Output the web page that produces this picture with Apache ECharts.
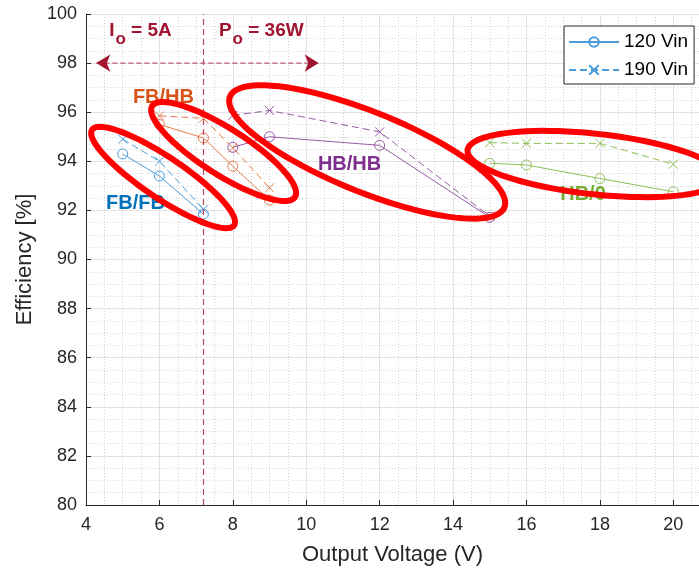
<!DOCTYPE html>
<html>
<head>
<meta charset="UTF-8" />
<title>Efficiency vs Output Voltage</title>
<script src="https://cdn.jsdelivr.net/npm/echarts@6/dist/echarts.min.js"></script>
<style>
html,body{margin:0;padding:0;background:#fff;}
#main{width:699px;height:569px;}
</style>
</head>
<body>
<div id="main"></div>
<script type="text/javascript">
// --- data ---
var xFBFB = [5, 6, 7.2];
var fbfb120 = [94.3, 93.4, 91.85];
var fbfb190 = [94.9, 94.0, 92.05];

var xFBHB = [6, 7.2, 8, 9];
var fbhb120 = [95.5, 94.95, 93.8, 92.42];
var fbhb190 = [95.85, 95.75, 94.55, 92.92];

var xHBHB = [8, 9, 12, 15];
var hbhb120 = [94.57, 95.0, 94.65, 91.72];
var hbhb190 = [95.87, 96.07, 95.2, 91.76];

var xHB0 = [15, 16, 18, 20];
var hb0120 = [93.92, 93.85, 93.3, 92.76];
var hb0190 = [94.76, 94.73, 94.73, 93.88];

var groupNames = ['FB/FB', 'FB/HB', 'HB/HB', 'HB/0'];
var xTicks = [4, 6, 8, 10, 12, 14, 16, 18, 20];

// where the group labels and ellipses sit (data coords)
var groupLabelPos = [[5.35, 92.3], [6.11, 96.58], [11.18, 93.85], [17.54, 92.63]];
var ellipseCenters = [[6.10, 93.34], [7.75, 94.40], [11.66, 94.38], [17.86, 93.89]];
var ioLine = 7.2;
var arrowEnds = [[4.28, 98], [10.34, 98]];
var noteTexts = ['{m|I}{s|o}{m| = 5A}', '{m|P}{s|o}{m| = 36W}'];
var notePos = [[4.63, 99.3], [7.62, 99.3]];

// styles
var lineColors = ['#4a9dd8', '#e37c4f', '#9659a4', '#8dbf56'];
var labelColors = ['#0072BD', '#D95319', '#7E2F8E', '#77AC30'];
var ellipseShape = [
  {a: 85.6, b: 20.5, angle: 33.9},
  {a: 84.7, b: 23.1, angle: 32.5},
  {a: 148, b: 40, angle: 22},
  {a: 128, b: 30.3, angle: 6.2}
];
var darkRed = '#A2142F';
var font = '"Liberation Sans", Arial, Helvetica, sans-serif';
var crossPath = 'path://M0,0L10,10M10,0L0,10';

function pair(xs, ys) {
  return xs.map(function (x, i) { return [x, ys[i]]; });
}

var groupX = [xFBFB, xFBHB, xHBHB, xHB0];
var group120 = [fbfb120, fbhb120, hbhb120, hb0120];
var group190 = [fbfb190, fbhb190, hbhb190, hb0190];

var series = [];

// double arrow + the Io/Po boundary line
series.push({
  type: 'line', name: 'arrow', z: 1, silent: true,
  data: [
    {value: arrowEnds[0], symbolRotate: 90},
    {value: arrowEnds[1], symbolRotate: -90}
  ],
  symbol: 'arrow', symbolSize: [13, 14],
  itemStyle: {color: darkRed},
  lineStyle: {color: '#c05a70', width: 1.2, type: [5, 3]},
  markLine: {
    silent: true, symbol: 'none', animation: false,
    label: {show: false},
    lineStyle: {color: '#b8475f', width: 1.2, type: [6, 4]},
    data: [{xAxis: ioLine}]
  }
});

for (var g = 0; g < 4; g++) {
  series.push({
    type: 'line', name: '120 Vin', z: 3,
    data: pair(groupX[g], group120[g]),
    symbol: 'circle', symbolSize: 10,
    lineStyle: {color: lineColors[g], width: 1},
    itemStyle: {color: 'rgba(255,255,255,0)', borderColor: lineColors[g], borderWidth: 1}
  });
}
for (var h = 0; h < 4; h++) {
  series.push({
    type: 'line', name: '190 Vin', z: 3,
    data: pair(groupX[h], group190[h]),
    symbol: crossPath, symbolSize: 9,
    lineStyle: {color: lineColors[h], width: 1, type: [7, 4]},
    itemStyle: {color: 'rgba(255,255,255,0)', borderColor: lineColors[h], borderWidth: 1}
  });
}

// group labels
series.push({
  type: 'custom', name: 'labels', z: 4, silent: true,
  data: groupLabelPos,
  renderItem: function (params, api) {
    var p = api.coord([api.value(0), api.value(1)]);
    return {
      type: 'text', x: p[0], y: p[1],
      style: {
        text: groupNames[params.dataIndex], fill: labelColors[params.dataIndex],
        fontSize: 20, fontWeight: 'bold', fontFamily: font,
        align: 'center', verticalAlign: 'middle'
      }
    };
  }
});

// Io / Po notes
series.push({
  type: 'custom', name: 'notes', z: 4, silent: true,
  data: notePos,
  renderItem: function (params, api) {
    var p = api.coord([api.value(0), api.value(1)]);
    return {
      type: 'text', x: p[0], y: p[1],
      style: {
        text: noteTexts[params.dataIndex],
        align: 'left', verticalAlign: 'middle',
        rich: {
          m: {fill: darkRed, fontSize: 19, fontWeight: 'bold', fontFamily: font, verticalAlign: 'middle'},
          s: {fill: darkRed, fontSize: 17, fontWeight: 'bold', fontFamily: font, verticalAlign: 'middle', padding: [17, 0, 0, 1]}
        }
      }
    };
  }
});

// red ellipses
series.push({
  type: 'custom', name: 'ellipses', z: 10, silent: true,
  data: ellipseCenters,
  renderItem: function (params, api) {
    var c = api.coord([api.value(0), api.value(1)]);
    var e = ellipseShape[params.dataIndex];
    var th = e.angle * Math.PI / 180;
    var pts = [];
    for (var k = 0; k < 90; k++) {
      var t = k / 90 * 2 * Math.PI;
      pts.push([
        c[0] + e.a * Math.cos(t) * Math.cos(th) - e.b * Math.sin(t) * Math.sin(th),
        c[1] + e.a * Math.cos(t) * Math.sin(th) + e.b * Math.sin(t) * Math.cos(th)
      ]);
    }
    return {
      type: 'polygon', shape: {points: pts},
      style: {fill: 'none', stroke: '#ff0000', lineWidth: 6}
    };
  }
});

var chart = echarts.init(document.getElementById('main'));
chart.setOption({
  animation: false,
  backgroundColor: '#fff',
  grid: {left: 86, top: 14, right: 0, bottom: 64, containLabel: false, outerBoundsMode: 'none'},
  legend: {
    data: ['120 Vin', '190 Vin'],
    orient: 'vertical', left: 564, top: 26,
    itemWidth: 50, itemHeight: 12, itemGap: 6,
    padding: [5, 6, 3, 4],
    borderColor: '#262626', borderWidth: 1, backgroundColor: '#fff',
    selectedMode: false,
    textStyle: {fontSize: 19, color: '#000', fontFamily: font, lineHeight: 22}
  },
  xAxis: {
    type: 'value', min: 4, max: 20.7, interval: 2,
    name: 'Output Voltage (V)', nameLocation: 'middle', nameGap: 39,
    nameTextStyle: {fontSize: 22, color: '#262626', fontFamily: font},
    axisLine: {show: true, onZero: false, lineStyle: {color: '#262626', width: 1}},
    axisTick: {show: true, inside: true, length: 5, lineStyle: {color: '#262626'}},
    axisLabel: {
      fontSize: 18, color: '#262626', fontFamily: font, margin: 11, showMaxLabel: false,
      formatter: function (v) { return xTicks.indexOf(v) >= 0 ? String(v) : ''; }
    },
    splitLine: {show: true, lineStyle: {color: '#e2e2e2', width: 1}},
    minorTick: {show: false, splitNumber: 4},
    minorSplitLine: {show: true, lineStyle: {color: '#d4d4d4', width: 1, type: [1, 2]}}
  },
  yAxis: {
    type: 'value', min: 80, max: 100, interval: 2,
    name: 'Efficiency [%]', nameLocation: 'middle', nameGap: 44,
    nameTextStyle: {fontSize: 22, color: '#262626', fontFamily: font},
    axisLine: {show: true, onZero: false, lineStyle: {color: '#262626', width: 1}},
    axisTick: {show: true, inside: true, length: 5, lineStyle: {color: '#262626'}},
    axisLabel: {fontSize: 18, color: '#262626', fontFamily: font, margin: 9},
    splitLine: {show: true, lineStyle: {color: '#e2e2e2', width: 1}},
    minorTick: {show: false, splitNumber: 4},
    minorSplitLine: {show: true, lineStyle: {color: '#d4d4d4', width: 1, type: [1, 2]}}
  },
  series: series
});
</script>
</body>
</html>
